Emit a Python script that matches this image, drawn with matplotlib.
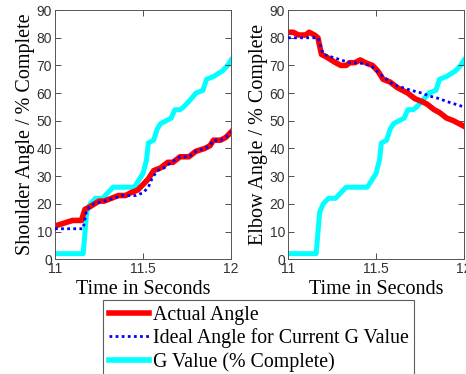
import matplotlib.pyplot as plt
from matplotlib.lines import Line2D

# G value (% complete), shared by both panels
g_t = [11.0, 11.16, 11.18, 11.2, 11.23, 11.27, 11.3, 11.33, 11.45, 11.47, 11.5, 11.52, 11.53,
       11.56, 11.58, 11.6, 11.63, 11.66, 11.68, 11.71, 11.73, 11.76, 11.8, 11.84, 11.86, 11.9,
       11.95, 11.98, 12.0]
g_v = [2, 2, 17, 20, 22, 22, 24, 26, 26, 28, 31, 36, 42, 43, 47, 49, 50, 51, 54, 54, 55, 57,
       60, 61, 65, 66, 68, 70, 72]

# shoulder
sh_t = [11.0, 11.05, 11.1, 11.15, 11.17, 11.2, 11.25, 11.28, 11.32, 11.36, 11.4, 11.43, 11.47,
        11.5, 11.53, 11.56, 11.6, 11.64, 11.67, 11.71, 11.76, 11.8, 11.85, 11.88, 11.9, 11.94,
        11.97, 12.0]
sh_act = [12, 13, 14, 14, 18, 19, 21, 21, 22, 23, 23, 24, 25, 27, 29, 32, 33, 35, 35, 37, 37,
          39, 40, 41, 43, 43, 44, 46]
shi_t = [11.0, 11.16, 11.18, 11.22, 11.28, 11.33, 11.38, 11.46, 11.5, 11.53, 11.55, 11.58,
         11.62, 11.66, 11.71, 11.76, 11.8, 11.85, 11.88, 11.9, 11.94, 11.97, 12.0]
sh_ideal = [11, 11, 18, 20, 21, 22, 23, 23, 24, 26, 29, 32, 33, 35, 37, 37, 39, 40, 41, 43, 43,
            44, 46]

# elbow
el_t = [11.0, 11.03, 11.06, 11.1, 11.12, 11.15, 11.17, 11.19, 11.22, 11.27, 11.3, 11.33, 11.35,
        11.38, 11.41, 11.44, 11.48, 11.51, 11.54, 11.58, 11.62, 11.65, 11.68, 11.72, 11.76,
        11.79, 11.83, 11.86, 11.9, 11.94, 11.97, 12.0]
el_act = [82, 82, 81, 81, 82, 81, 80, 74, 73, 71, 70, 70, 71, 71, 72, 71, 70, 68, 65, 64, 62,
          61, 60, 58, 57, 56, 54, 53, 51, 50, 49, 48]
eli_t = [11.0, 11.17, 11.2, 11.25, 11.3, 11.35, 11.4, 11.47, 11.52, 11.56, 11.6, 11.65, 11.7,
         11.76, 11.8, 11.86, 11.9, 11.95, 12.0]
el_ideal = [80, 80, 74, 73, 72, 71, 71, 70, 67, 65, 63, 62, 61, 60, 59, 58, 57, 56, 55]

serif = 'Liberation Serif'
sans = 'Liberation Sans'

fig = plt.figure(figsize=(4.66, 3.74), dpi=100)
ax1 = fig.add_axes([0.118, 0.307, 0.378, 0.666])
ax2 = fig.add_axes([0.618, 0.307, 0.378, 0.666])

panels = [(ax1, sh_t, sh_act, shi_t, sh_ideal, 'Shoulder Angle / % Complete'),
          (ax2, el_t, el_act, eli_t, el_ideal, 'Elbow Angle / % Complete')]

for ax, t, act, ti, ideal, ylab in panels:
    ax.plot(t, act, color='red', lw=4, zorder=2)
    ax.plot(ti, ideal, color='blue', lw=2, ls=(0, (1, 1.2)), zorder=3)
    ax.plot(g_t, g_v, color='cyan', lw=3.6, zorder=1)
    ax.set_xlim(11, 12)
    ax.set_ylim(0, 90)
    ax.set_xticks([11, 11.5, 12])
    ax.set_xticklabels(['11', '11.5', '12'])
    ax.set_yticks(range(0, 91, 10))
    ax.tick_params(direction='in', top=True, right=True, length=4, width=0.6,
                   colors='#333333', labelsize=10, pad=2)
    for lab in ax.get_xticklabels() + ax.get_yticklabels():
        lab.set_family(sans)
    for s in ax.spines.values():
        s.set_color('#555555')
        s.set_linewidth(0.7)
    ax.set_xlabel('Time in Seconds', family=serif, fontsize=14.5, labelpad=3)
    ax.set_ylabel(ylab, family=serif, fontsize=14.5, labelpad=1)

handles = [Line2D([], [], color='red', lw=4),
           Line2D([], [], color='blue', lw=2, ls=(0, (1, 1.2))),
           Line2D([], [], color='cyan', lw=4)]
labels = ['Actual Angle', 'Ideal Angle for Current G Value', 'G Value (% Complete)']
leg = fig.legend(handles, labels, loc='upper left', bbox_to_anchor=(103 / 466, 1 - 300 / 374),
                 prop={'family': serif, 'size': 14.3}, frameon=True, fancybox=False,
                 handlelength=2.0, handletextpad=0.2, borderpad=0.3, labelspacing=0.18,
                 borderaxespad=0)
leg.get_frame().set_edgecolor('#333333')
leg.get_frame().set_linewidth(0.8)

fig.savefig('out.png', dpi=100)
